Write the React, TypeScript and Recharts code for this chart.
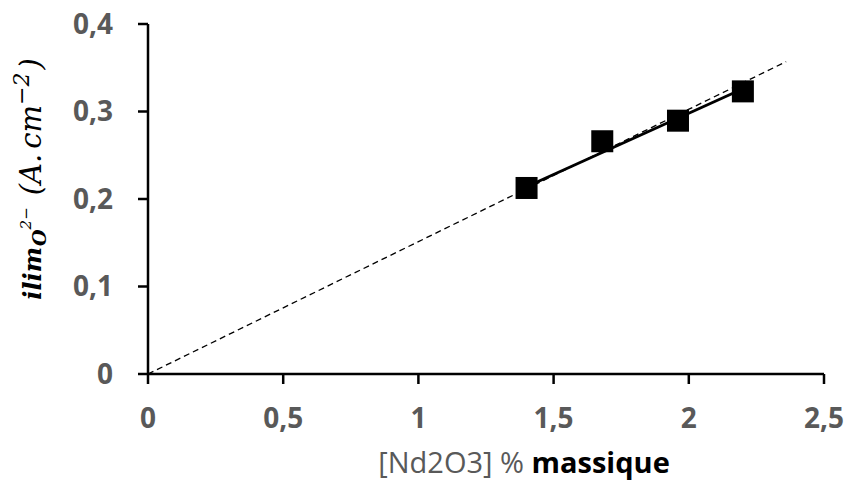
import React from "react";
import { ScatterChart, Scatter, XAxis, YAxis } from "recharts";

const xTicks = [0, 0.5, 1, 1.5, 2, 2.5];
const yTicks = [0, 0.1, 0.2, 0.3, 0.4];
const measured = [
  { x: 1.4, y: 0.2126 },
  { x: 1.68, y: 0.266 },
  { x: 1.96, y: 0.2895 },
  { x: 2.2, y: 0.323 },
];
const fitLine = [
  { x: 1.4, y: 0.214 },
  { x: 2.2, y: 0.326 },
];
const originLine = [
  { x: 0, y: 0 },
  { x: 2.36, y: 0.357 },
];

const fmt = (v: number) => String(v).replace(".", ",");

const tickStyle = {
  fill: "#595959",
  fontSize: 28,
  fontWeight: 700,
  fontFamily: "'Open Sans', sans-serif",
};

const Square = (props: any) => {
  const { cx, cy } = props;
  if (cx == null || cy == null) return <g />;
  return <rect x={cx - 11} y={cy - 11} width={22} height={22} fill="#000" />;
};

const NoDot = () => <g />;

const YTitle = () => (
  <text
    transform="translate(41,179) rotate(-90)"
    textAnchor="middle"
    fontFamily="'DejaVu Serif', serif"
    fontStyle="italic"
    fill="#000"
  >
    <tspan fontSize={24} fontWeight={700}>ilim</tspan>
    <tspan fontSize={19} fontWeight={700} dy={5} dx={1}>O</tspan>
    <tspan fontSize={15} dy={-15}>2−</tspan>
    <tspan fontSize={29} dy={10} dx={12}>(</tspan>
    <tspan fontSize={29}>A.</tspan>
    <tspan fontSize={29} dx={5}>cm</tspan>
    <tspan fontSize={22} dy={-12}>−2</tspan>
    <tspan fontSize={29} dy={12} dx={3}>)</tspan>
  </text>
);

const XTitle = () => (
  <text x={524} y={473} textAnchor="middle" fontFamily="'Open Sans', sans-serif" fontSize={29}>
    <tspan fill="#595959" fontWeight={500}>[Nd2O3] % </tspan>
    <tspan fill="#000" fontWeight={700}>massique</tspan>
  </text>
);

export default function App() {
  return (
    <div style={{ position: "absolute", left: 0, top: 0, width: 847, height: 484, background: "#fff" }}>
      <ScatterChart width={847} height={484} margin={{ top: 24, right: 23, bottom: 0, left: 0 }}>
        <XAxis
          type="number"
          dataKey="x"
          domain={[0, 2.5]}
          ticks={xTicks}
          interval={0}
          tickFormatter={fmt}
          height={110}
          axisLine={{ stroke: "#000", strokeWidth: 2.5 }}
          tickLine={{ stroke: "#000", strokeWidth: 2.5 }}
          tickSize={10}
          tickMargin={24}
          tick={tickStyle}
          allowDataOverflow
          label={<XTitle />}
        />
        <YAxis
          type="number"
          dataKey="y"
          domain={[0, 0.4]}
          ticks={yTicks}
          interval={0}
          tickFormatter={fmt}
          width={148}
          axisLine={{ stroke: "#000", strokeWidth: 2.5 }}
          tickLine={{ stroke: "#000", strokeWidth: 2.5 }}
          tickSize={10}
          tickMargin={25}
          tick={tickStyle}
          allowDataOverflow
          label={<YTitle />}
        />
        <Scatter
          data={originLine}
          line={{ stroke: "#000", strokeWidth: 1.3, strokeDasharray: "6 4" }}
          shape={NoDot}
          isAnimationActive={false}
        />
        <Scatter
          data={fitLine}
          line={{ stroke: "#000", strokeWidth: 3 }}
          shape={NoDot}
          isAnimationActive={false}
        />
        <Scatter data={measured} shape={Square} isAnimationActive={false} />
      </ScatterChart>
    </div>
  );
}
